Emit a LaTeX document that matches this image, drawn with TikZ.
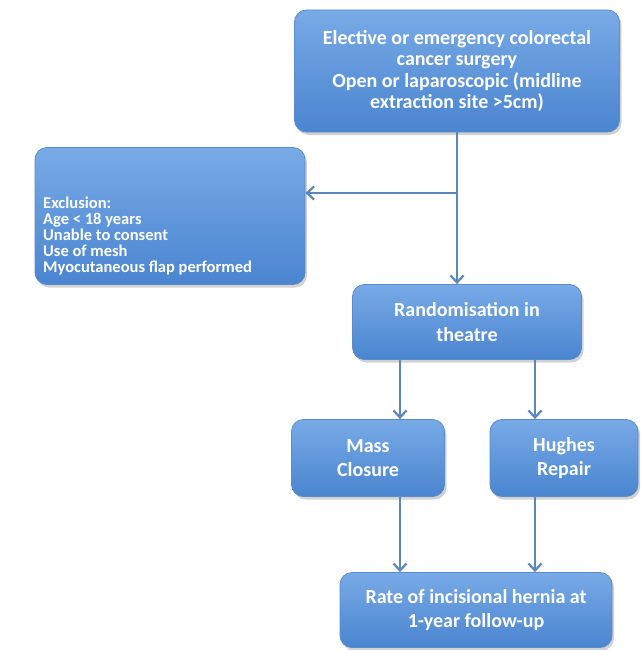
\documentclass[tikz,border=0pt]{standalone}
\usepackage{fontspec}
\setmainfont{Carlito}
\usetikzlibrary{shadows,arrows.meta}
\definecolor{boxtop}{HTML}{78AAE6}
\definecolor{boxbot}{HTML}{4A85D0}
\definecolor{boxline}{HTML}{5C8CC8}
\definecolor{arrowc}{HTML}{5B86BE}
\tikzset{
  fbox/.style={rectangle, rounded corners=12pt, draw=boxline, line width=0.8pt,
    top color=boxtop, bottom color=boxbot, text=white, font=\bfseries\fontsize{20}{24.5}\selectfont,
    align=center, inner sep=0pt, drop shadow={opacity=0.35, shadow xshift=2pt, shadow yshift=-3pt}},
  ftext/.style={text=white, font=\bfseries\fontsize{16.5}{16}\selectfont, align=left, inner sep=0pt},
  conn/.style={draw=arrowc, line width=2.2pt, -{Straight Barb[length=7pt, width=13pt, line width=2.2pt]}},
}
\begin{document}
\begin{tikzpicture}[x=1pt,y=-1pt]
\useasboundingbox[fill=white] (0,0) rectangle (640,650);
\node[fbox, minimum width=325pt, minimum height=122pt, font=\bfseries\fontsize{20}{21.3}\selectfont] (top) at (457,71)
  {Elective or emergency colorectal\\cancer surgery\\Open or laparoscopic (midline\\extraction site >5cm)};
\node[fbox, minimum width=270pt, minimum height=137pt] (excl) at (170,216) {};
\node[ftext, anchor=west] (excltxt) at (43,236)
  {Exclusion:\\Age < 18 years\\Unable to consent\\Use of mesh\\Myocutaneous flap performed};
\node[fbox, minimum width=229pt, minimum height=75pt] (rand) at (467,322)
  {Randomisation in\\theatre};
\node[fbox, minimum width=153pt, minimum height=77pt] (mass) at (368,458)
  {Mass\\Closure};
\node[fbox, minimum width=148pt, minimum height=77pt] (hug) at (564,458)
  {Hughes\\Repair};
\node[fbox, minimum width=272pt, minimum height=75pt] (rate) at (476,610)
  {Rate of incisional hernia at\\1-year follow-up};
\coordinate (j) at (457,193);
\draw[conn] (top.south -| j) -- (rand.north -| j);
\draw[conn] (j) -- (excl.east |- j);
\draw[conn] (rand.south -| 400,0) -- (mass.north -| 400,0);
\draw[conn] (rand.south -| 535,0) -- (hug.north -| 535,0);
\draw[conn] (mass.south -| 400,0) -- (rate.north -| 400,0);
\draw[conn] (hug.south -| 535,0) -- (rate.north -| 535,0);
\end{tikzpicture}
\end{document}
